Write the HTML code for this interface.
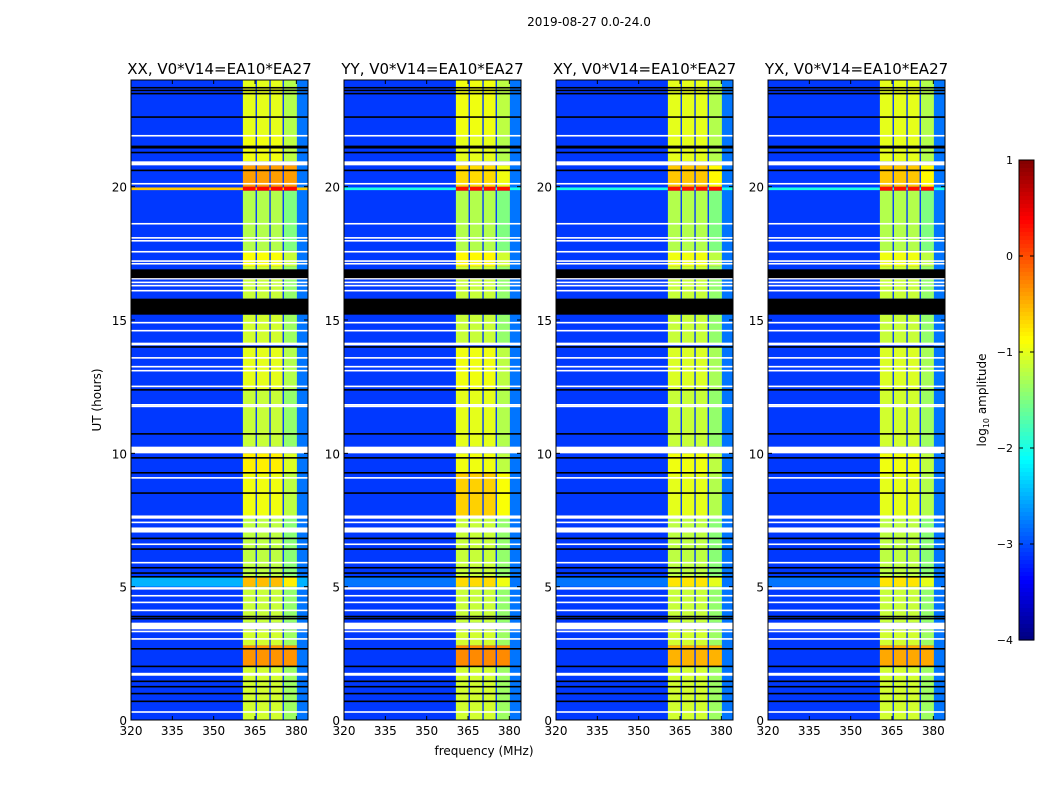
<!DOCTYPE html>
<html><head><meta charset="utf-8"><style>
body{margin:0;background:#fff;width:1050px;height:800px;overflow:hidden}
svg{display:block;font-family:"DejaVu Sans","Liberation Sans",sans-serif}
</style></head><body>
<svg id="fig" width="1050" height="800">
<text x="589" y="26" font-size="12" text-anchor="middle">2019-08-27 0.0-24.0</text>
<text x="484" y="755" font-size="12" text-anchor="middle">frequency (MHz)</text>
<text x="101" y="400" font-size="12" text-anchor="middle" transform="rotate(-90 101 400)">UT (hours)</text>
<text x="986" y="400" font-size="12" text-anchor="middle" transform="rotate(-90 986 400)">log<tspan font-size="8" dy="3">10</tspan><tspan dy="-3"> amplitude</tspan></text>
</svg>
<script>
// ---- data ----
const panelTitles = ["XX, V0*V14=EA10*EA27","YY, V0*V14=EA10*EA27","XY, V0*V14=EA10*EA27","YX, V0*V14=EA10*EA27"];
const xTicks = [320,335,350,365,380];
const yTicks = [0,5,10,15,20];
const cbTicks = [1,0,-1,-2,-3,-4];
const bgLevel = -3.1;
const rightBgLevel = -2.8;
const subBands = [[360.6,365.2],[365.7,370.2],[370.7,375.0],[375.5,380.2]];
const subBandOffset = [0,0,0,-0.25];
const bandRowsT0 = [0,2,2.8,3.65,5.0,5.4,7.6,9.3,10.25,12.4,14.1,15.8,17.0,17.6,19.85,20.0,20.95,21.9];
const bandRowsT1 = [2,2.8,3.4,5.0,5.4,7.6,9.3,10,12.4,14,15.2,17.0,17.6,19.85,20.0,20.8,21.9,24];
const bandLevels = [
 [-1.1,-0.35,-1.1,-1.15,-0.55,-1.2,-0.95,-0.8,-1.15,-1.0,-1.1,-1.15,-0.9,-1.25,0.35,-0.4,-0.95,-1.0],
 [-1.1,-0.3,-1.1,-1.15,-0.7,-1.15,-0.65,-0.95,-1.0,-0.95,-1.15,-1.15,-0.85,-1.25,0.3,-0.7,-1.0,-0.95],
 [-1.1,-0.5,-1.1,-1.15,-0.75,-1.2,-1.0,-0.95,-1.15,-1.05,-1.15,-1.15,-0.95,-1.25,0.3,-0.6,-1.0,-1.0],
 [-1.1,-0.45,-1.1,-1.15,-0.75,-1.2,-1.0,-0.95,-1.1,-1.05,-1.15,-1.15,-0.95,-1.25,0.3,-0.6,-1.0,-1.0]];
const rowLineT = [19.87,5.0];
const rowLineT1 = [19.97,5.4];
const rowLineLevel = [[-0.6,-2.5],[-2.0,-2.8],[-2.0,-2.8],[-2.0,-2.8]];
const whiteT0 = [21.88,20.8,20.08,18.58,18.05,17.94,17.53,17.18,17.08,16.52,16.38,16.26,16.07,15.56,14.87,14.57,14.05,13.55,13.22,13.07,12.48,11.79,11.73,10.0,9.05,7.55,7.38,7.03,6.56,5.87,4.89,4.63,4.38,4.08,3.4,3.29,3.01,1.66,0.27];
const whiteT1 = [21.94,20.95,20.14,18.64,18.11,18.0,17.59,17.24,17.14,16.58,16.44,16.32,16.13,15.62,14.93,14.63,14.15,13.61,13.28,13.13,12.54,11.85,11.79,10.25,9.11,7.67,7.44,7.22,6.62,5.93,4.98,4.69,4.44,4.14,3.65,3.35,3.07,1.77,0.33];
const blackT0 = [23.68,23.58,23.46,22.58,21.48,21.43,21.25,20.58,16.57,15.2,13.96,12.35,10.7,9.8,9.24,8.48,6.78,6.38,5.68,5.48,5.34,3.85,3.77,2.64,1.98,1.42,1.22,0.96,0.67];
const blackT1 = [23.74,23.64,23.52,22.64,21.54,21.49,21.31,20.64,16.9,15.8,14.02,12.41,10.76,9.86,9.3,8.54,6.84,6.44,5.74,5.54,5.4,3.91,3.83,2.7,2.04,1.48,1.28,1.02,0.73];
// ---- layout ----
const panelX = [131,344,556,768], PW = 177, PT = 80, PH = 640;
const fMin = 320, fMax = 320 + PW/2.756, tMin = 0, tMax = 24;
const NS = "http://www.w3.org/2000/svg";
const svg = document.getElementById('fig');
function jet(v){const x=Math.max(0,Math.min(1,(v+4)/5));
 const c=t=>Math.round(255*Math.max(0,Math.min(1,1.5-Math.abs(t))));
 return `rgb(${c(4*x-3)},${c(4*x-2)},${c(4*x-1)})`;}
function mk(tag,attrs,parent){const e=document.createElementNS(NS,tag);for(const k in attrs)e.setAttribute(k,attrs[k]);(parent||svg).appendChild(e);return e;}
panelX.forEach((px,p)=>{
 const xs=f=>px+(f-fMin)/(fMax-fMin)*PW;
 const ys=t=>PT+PH-(t-tMin)/(tMax-tMin)*PH;
 const g=mk('g',{});
 
 
 const bg=mk('rect',{x:px,y:PT,width:PW,height:PH,fill:jet(bgLevel)},g);
 
 
 const rb=mk('rect',{x:xs(380.2),y:PT,width:px+PW-xs(380.2),height:PH,fill:jet(rightBgLevel)},g);
 
 
 for(let i=0;i<rowLineT.length;i++){
  const r=mk('rect',{x:px,y:ys(rowLineT1[i]),width:PW,height:ys(rowLineT[i])-ys(rowLineT1[i]),fill:jet(rowLineLevel[p][i])},g);
  
  
 }
 subBands.forEach((sb,s)=>{
  for(let i=0;i<bandRowsT0.length;i++){
   const r=mk('rect',{x:xs(sb[0]),y:ys(bandRowsT1[i]),width:xs(sb[1])-xs(sb[0]),height:ys(bandRowsT0[i])-ys(bandRowsT1[i]),fill:jet(bandLevels[p][i]+(bandLevels[p][i]<-0.5?subBandOffset[s]:0))},g);
   
   
  }
 });
 for(let i=0;i<whiteT0.length;i++){
  const r=mk('rect',{x:px,y:ys(whiteT1[i]),width:PW,height:Math.max(1.5,ys(whiteT0[i])-ys(whiteT1[i])),fill:'#fff'},g);
  
  
 }
 for(let i=0;i<blackT0.length;i++){
  const r=mk('rect',{x:px,y:ys(blackT1[i]),width:PW,height:Math.max(1.2,ys(blackT0[i])-ys(blackT1[i])),fill:'#000'},g);
  
  
 }
 const fr=mk('rect',{x:px,y:PT,width:PW,height:PH,fill:'none',stroke:'#000','stroke-width':1},g);
 
 
 const tt=mk('text',{x:px+PW/2,y:74,'font-size':15,'text-anchor':'middle'},g);
 tt.textContent=panelTitles[p];
 
 
 xTicks.forEach(v=>{
  mk('line',{x1:xs(v),x2:xs(v),y1:PT+PH,y2:PT+PH-4,stroke:'#000'},g);
  mk('line',{x1:xs(v),x2:xs(v),y1:PT,y2:PT+4,stroke:'#000'},g);
  const t=mk('text',{x:xs(v),y:PT+PH+15,'font-size':12,'text-anchor':'middle'},g);
  t.textContent=v;
  
  
 });
 yTicks.forEach(v=>{
  mk('line',{x1:px,x2:px+4,y1:ys(v),y2:ys(v),stroke:'#000'},g);
  mk('line',{x1:px+PW,x2:px+PW-4,y1:ys(v),y2:ys(v),stroke:'#000'},g);
  const t=mk('text',{x:px-4,y:ys(v)+5,'font-size':12,'text-anchor':'end'},g);
  t.textContent=v;
  
  
 });
});
// colorbar
const cbX=1019,cbW=15,cbT=160,cbH=480,cbMin=-4,cbMax=1;
const cy=v=>cbT+(cbMax-v)/(cbMax-cbMin)*cbH;
const cg=mk('g',{});


for(let i=0;i<120;i++){const v0=cbMax-(i/120)*(cbMax-cbMin);
 mk('rect',{x:cbX,y:cbT+i*cbH/120,width:cbW,height:cbH/120+0.6,fill:jet(v0-(cbMax-cbMin)/240)},cg);}
mk('rect',{x:cbX,y:cbT,width:cbW,height:cbH,fill:'none',stroke:'#000'},cg);
cbTicks.forEach(v=>{
 mk('line',{x1:cbX,x2:cbX+4,y1:cy(v),y2:cy(v),stroke:'#000'},cg);
 mk('line',{x1:cbX+cbW,x2:cbX+cbW-4,y1:cy(v),y2:cy(v),stroke:'#000'},cg);
 const t=mk('text',{x:1013,y:cy(v)+4,'font-size':11,'text-anchor':'end'},cg);
 t.textContent=v<0?'\u2212'+(-v):v;
 
 
});
</script>
</body></html>
